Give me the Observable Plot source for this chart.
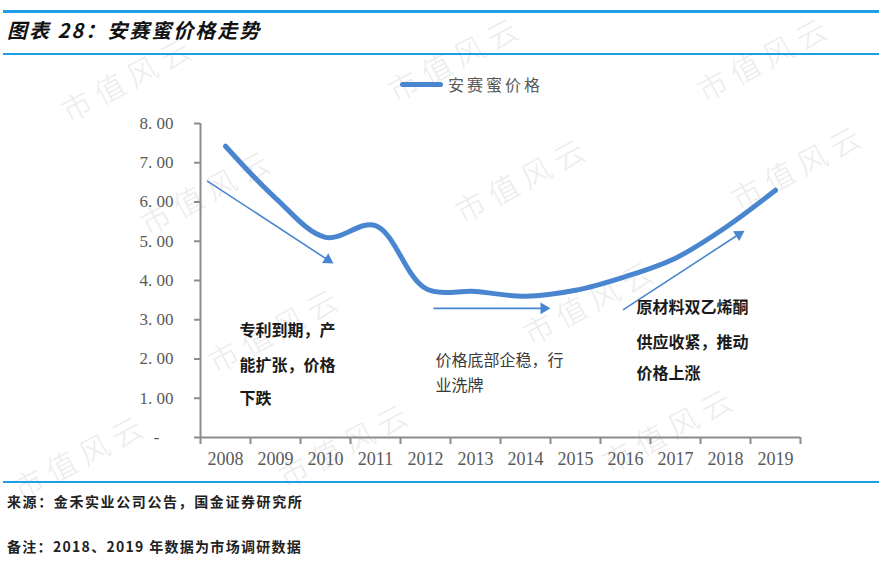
<!DOCTYPE html>
<html>
<head>
<meta charset="utf-8">
<script src="https://cdn.jsdelivr.net/npm/d3@7"></script>
<script src="https://cdn.jsdelivr.net/npm/@observablehq/plot@0.6"></script>
<style>
  html, body { margin: 0; padding: 0; background: #fff; }
  #wrap { position: relative; width: 879px; height: 566px; overflow: hidden; background: #fff; font-family: "Noto Sans CJK SC", sans-serif; }
  #chart { position: absolute; left: 0; top: 0; }
  .hline { position: absolute; left: 3px; right: 0; background: #1e9fe5; }
  .title { position: absolute; left: 7px; top: 20px; font-size: 20px; line-height: 20px; font-weight: bold; font-style: italic; letter-spacing: 2px; color: #111; white-space: nowrap; }
  .foot { position: absolute; left: 7px; font-size: 14px; line-height: 14px; font-weight: bold; color: #222; white-space: nowrap; }
  .legend-line { position: absolute; left: 400px; top: 82px; width: 43px; height: 5px; border-radius: 3px; background: #4a86d0; }
  .legend-text { position: absolute; left: 448px; top: 76px; font-size: 16px; line-height: 16px; letter-spacing: 3px; color: #595959; white-space: nowrap; }
  .wm { position: absolute; transform: translate(-50%, -50%) rotate(-28deg); font-size: 30px; line-height: 34px; letter-spacing: 7px; color: #ececec; font-weight: 300; white-space: nowrap; }
</style>
</head>
<body>
<div id="wrap">
  <div id="wm"></div>
  <div id="chart"></div>
  <div class="hline" style="top:10px;height:2.5px"></div>
  <div class="title" id="title"></div>
  <div class="hline" style="top:52.5px;height:2px"></div>
  <div class="legend-line"></div>
  <div class="legend-text" id="legend"></div>
  <div class="hline" style="top:480.5px;height:2px"></div>
  <div class="foot" id="src" style="top:494px;letter-spacing:1.6px"></div>
  <div class="foot" id="note" style="top:539px;letter-spacing:1.3px"></div>
</div>
<script>
// ---- data ----
const titleText = "图表 28：安赛蜜价格走势";
const seriesName = "安赛蜜价格";
const sourceText = "来源：金禾实业公司公告，国金证券研究所";
const noteText = "备注：2018、2019 年数据为市场调研数据";
const watermarkText = "市值风云";

const years = [2008, 2009, 2010, 2011, 2012, 2013, 2014, 2015, 2016, 2017, 2018, 2019];
const prices = [7.42, 6.1, 5.1, 5.4, 3.8, 3.72, 3.6, 3.75, 4.1, 4.57, 5.35, 6.3];
const yTicks = [0, 1, 2, 3, 4, 5, 6, 7, 8];

// trend arrows (in year / price units)
const arrowX1 = [2007.63, 2012.16, 2015.95];
const arrowY1 = [6.54, 3.29, 3.25];
const arrowX2 = [2010.16, 2014.5, 2018.38];
const arrowY2 = [4.43, 3.29, 5.27];

// annotation lines (start x in years, centre y in price units)
const noteBoldText = ["专利到期，产", "能扩张，价格", "下跌", "原材料双乙烯酮", "供应收紧，推动", "价格上涨"];
const noteBoldX = [2008.28, 2008.28, 2008.28, 2016.22, 2016.22, 2016.22];
const noteBoldY = [2.72, 1.83, 0.98, 3.30, 2.41, 1.62];
const noteLightText = ["价格底部企稳，行", "业洗牌"];
const noteLightX = [2012.2, 2012.2];
const noteLightY = [1.95, 1.32];

// watermark centres (pixels), kept inside the page
const wmX = [128, 455, 764, 207, 522, 798, 275, 590, 80, 345, 669];
const wmY = [77, 57, 57, 190, 178, 165, 328, 300, 455, 443, 428];

// ---- layout ----
const W = 879, H = 566, mL = 200, mR = 79, mT = 123, mB = 129;
const blue = "#4a86d0";
const axisGray = "#8c8c8c";
const labelGray = "#595959";

document.getElementById("title").textContent = titleText;
document.getElementById("legend").textContent = seriesName;
document.getElementById("src").textContent = sourceText;
document.getElementById("note").textContent = noteText;

const wmBox = document.getElementById("wm");
wmX.forEach((x, i) => {
  const d = document.createElement("div");
  d.className = "wm";
  d.style.left = x + "px";
  d.style.top = wmY[i] + "px";
  d.textContent = watermarkText;
  wmBox.appendChild(d);
});

const data = years.map((y, i) => ({year: y, price: prices[i]}));
const x0 = years[0] - 0.5, x1 = years[years.length - 1] + 0.5;
const boundaries = years.map(y => y - 0.5).concat([x1]);

const pxPerYear = (W - mL - mR) / (x1 - x0);
const pxPerUnit = (H - mT - mB) / (yTicks[yTicks.length - 1] - yTicks[0]);
const headR = 5.5;
const headS = Math.sqrt(Math.PI * headR * headR) * 0.6824;

const arrows = arrowX1.map((ax, i) => {
  const dxp = (arrowX2[i] - ax) * pxPerYear;
  const dyp = -(arrowY2[i] - arrowY1[i]) * pxPerUnit;
  const len = Math.hypot(dxp, dyp);
  const ux = dxp / len, uy = dyp / len;
  return {
    x1: ax, y1: arrowY1[i], x2: arrowX2[i], y2: arrowY2[i],
    lx2: arrowX2[i] - ux * headS * 1.2 / pxPerYear,
    ly2: arrowY2[i] + uy * headS * 1.2 / pxPerUnit,
    hx: arrowX2[i] - ux * headS / pxPerYear,
    hy: arrowY2[i] + uy * headS / pxPerUnit,
    rot: Math.atan2(dxp, -dyp) * 180 / Math.PI
  };
});

const boldNotes = noteBoldText.map((t, i) => ({t, x: noteBoldX[i], y: noteBoldY[i]}));
const lightNotes = noteLightText.map((t, i) => ({t, x: noteLightX[i], y: noteLightY[i]}));

const fmtY = d => d === 0 ? "-" : d.toFixed(2).replace(".", ". ");

const chart = Plot.plot({
  width: W, height: H,
  marginLeft: mL, marginRight: mR, marginTop: mT, marginBottom: mB,
  style: {background: "transparent", overflow: "visible"},
  x: {domain: [x0, x1], label: null},
  y: {domain: [yTicks[0], yTicks[yTicks.length - 1]], label: null},
  marks: [
    Plot.ruleX([x0], {y1: yTicks[0], y2: yTicks[yTicks.length - 1], stroke: axisGray, strokeWidth: 2}),
    Plot.ruleY([0], {stroke: axisGray, strokeWidth: 2}),
    Plot.axisY(yTicks, {
      tickSize: 6, tickPadding: 38, textAnchor: "middle", tickFormat: fmtY, label: null,
      stroke: axisGray, strokeWidth: 2, fill: labelGray,
      fontSize: 17, fontFamily: "Liberation Serif"
    }),
    Plot.axisX(boundaries, {tickSize: 7, tickFormat: () => "", label: null, stroke: axisGray, strokeWidth: 2}),
    Plot.axisX(years, {
      tickSize: 0, tickPadding: 15, tickFormat: d => String(d), label: null,
      fill: labelGray, fontSize: 18, fontFamily: "Liberation Serif"
    }),
    Plot.line(data, {x: "year", y: "price", curve: "catmull-rom", stroke: blue, strokeWidth: 5, strokeLinecap: "round", strokeLinejoin: "round"}),
    Plot.link(arrows, {x1: "x1", y1: "y1", x2: "lx2", y2: "ly2", stroke: blue, strokeWidth: 1.6}),
    Plot.dot(arrows, {x: "hx", y: "hy", symbol: "triangle2", r: headR, fill: blue, stroke: "none", rotate: "rot"}),
    Plot.text(boldNotes, {x: "x", y: "y", text: "t", textAnchor: "start", lineAnchor: "middle", fontSize: 16, fontWeight: "bold", fill: "#1a1a1a", fontFamily: "Noto Sans CJK SC", ariaLabel: "note-bold"}),
    Plot.text(lightNotes, {x: "x", y: "y", text: "t", textAnchor: "start", lineAnchor: "middle", fontSize: 16, fill: "#3a3a3a", fontFamily: "Noto Sans CJK SC", ariaLabel: "note-light"})
  ]
});

d3.select(chart).selectAll('g[aria-label="note-bold"] text').attr("letter-spacing", 3.5);
d3.select(chart).selectAll('g[aria-label="note-light"] text').attr("letter-spacing", 3);

document.getElementById("chart").appendChild(chart);
</script>
</body>
</html>
